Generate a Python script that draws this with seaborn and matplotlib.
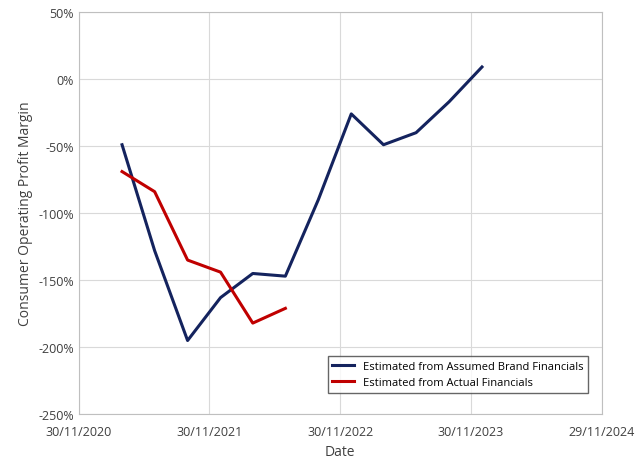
import pandas as pd
import matplotlib
matplotlib.use("Agg")
import matplotlib.pyplot as plt
import matplotlib.dates as mdates
import matplotlib.ticker as mtick
import seaborn as sns

dates = ["2021-03-31","2021-06-30","2021-09-30","2021-12-31","2022-03-31","2022-06-30",
         "2022-09-30","2022-12-31","2023-03-31","2023-06-30","2023-09-30","2023-12-31"]
brand = [-49,-128,-195,-163,-145,-147,-90,-26,-49,-40,-17,9]
actual_dates = dates[:6]
actual = [-69,-84,-135,-144,-182,-171]
xticks = ["2020-11-30","2021-11-30","2022-11-30","2023-11-30","2024-11-29"]

plt.rcParams["font.family"] = "Open Sans"
fig, ax = plt.subplots(figsize=(6.4, 4.64), dpi=100)
df1 = pd.DataFrame({"Date": pd.to_datetime(dates), "v": brand})
df2 = pd.DataFrame({"Date": pd.to_datetime(actual_dates), "v": actual})
sns.lineplot(data=df1, x="Date", y="v", ax=ax, color="#14235e", lw=2.2,
             label="Estimated from Assumed Brand Financials")
sns.lineplot(data=df2, x="Date", y="v", ax=ax, color="#c00000", lw=2.2,
             label="Estimated from Actual Financials")
xt = pd.to_datetime(xticks)
ax.set_xlim(xt[0], xt[-1])
ax.set_xticks(xt)
ax.xaxis.set_major_formatter(mdates.DateFormatter("%d/%m/%Y"))
ax.set_ylim(-250, 50)
ax.set_yticks(range(-250, 51, 50))
ax.yaxis.set_major_formatter(mtick.FuncFormatter(lambda v, p: f"{int(v)}%"))
ax.grid(True, color="#d9d9d9", lw=0.8)
for s in ax.spines.values():
    s.set_color("#bfbfbf")
ax.tick_params(length=0, labelsize=9, colors="#404040")
ax.tick_params(axis="x", pad=8)
ax.set_xlabel("Date", fontsize=10, color="#404040")
ax.set_ylabel("Consumer Operating Profit Margin", fontsize=10, color="#404040")
leg = ax.legend(loc="lower right", fontsize=8, frameon=True, fancybox=False,
                edgecolor="#404040", bbox_to_anchor=(0.985, 0.04))
fig.subplots_adjust(left=0.123, right=0.94, top=0.972, bottom=0.105)
fig.savefig("out.png")
